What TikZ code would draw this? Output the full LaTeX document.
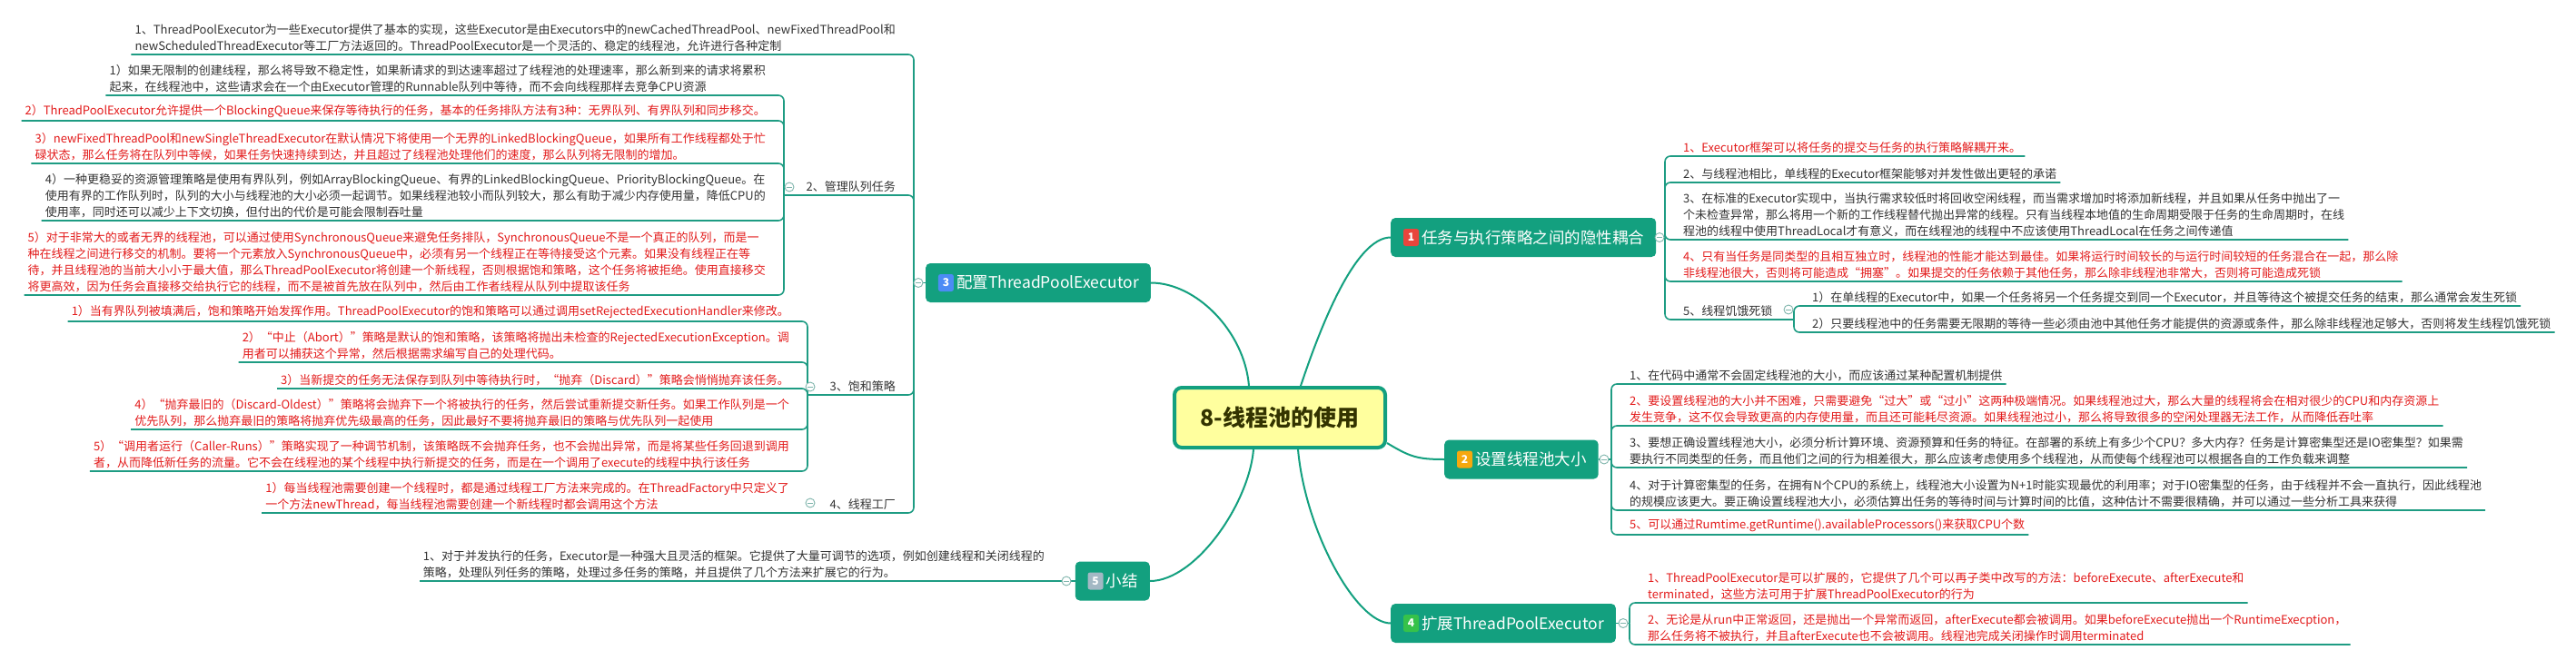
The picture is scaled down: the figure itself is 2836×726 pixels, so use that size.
\documentclass[tikz,border=0pt]{standalone}
\usepackage{fontspec}
\setmainfont{Noto Sans CJK SC}
\usetikzlibrary{calc}
\definecolor{teal0}{HTML}{13A07F}
\definecolor{lineteal}{HTML}{1E9C83}
\definecolor{txt}{HTML}{333333}
\definecolor{redtxt}{HTML}{E31B1B}
\definecolor{cfill}{HTML}{FFFF9E}
\definecolor{ctxt}{HTML}{333300}
\definecolor{bone}{HTML}{E8453C}
\definecolor{btwo}{HTML}{F6A80E}
\definecolor{bthree}{HTML}{4C8BF5}
\definecolor{bfour}{HTML}{36C24A}
\definecolor{bfive}{HTML}{A3B8C4}
\definecolor{cbtn}{HTML}{7FB5AC}
\newcommand\leaffont{\fontsize{13}{18}\selectfont}
\tikzset{
  leaf/.style={inner xsep=4pt, inner ysep=3pt, align=left, font=\leaffont, text=txt},
  redleaf/.style={leaf, text=redtxt},
  branch/.style={fill=teal0, rounded corners=5pt, text=white, font=\fontsize{17.5}{21}\selectfont, minimum height=43pt, inner xsep=13pt, inner ysep=0pt},
  badge/.style={rounded corners=2.5pt, text=white, font=\bfseries\fontsize{12}{12}\selectfont, inner sep=0pt, minimum width=17pt, minimum height=19pt},
  mainconn/.style={draw=teal0, line width=2pt},
  conn/.style={draw=lineteal, line width=1.6pt, rounded corners=6pt},
  btn/.style={circle, draw=cbtn, fill=white, line width=0.9pt, minimum size=10pt, inner sep=0pt,
    path picture={\draw[cbtn, line width=0.9pt] ([xshift=-2.6pt]path picture bounding box.center) -- ([xshift=2.6pt]path picture bounding box.center);}},
  centernode/.style={draw=teal0, line width=4pt, fill=cfill, rounded corners=8pt, minimum width=232pt, minimum height=66pt, font=\bfseries\fontsize{25}{30}\selectfont, text=ctxt}
}
\begin{document}
\begin{tikzpicture}[x=1pt,y=-1pt]
\useasboundingbox (0,0) rectangle (2836,726);
\fill[white] (0,0) rectangle (2836,726);

% ---------- center and branches
\node[centernode] (c) at (1409,460) {8-线程池的使用};
\node[branch, anchor=east] (n3) at (1267,311.5) {\hspace*{21pt}配置ThreadPoolExecutor};
\node[branch, anchor=west] (n1) at (1531,261.5) {\hspace*{21pt}任务与执行策略之间的隐性耦合};
\node[branch, anchor=west] (n2) at (1590,506) {\hspace*{21pt}设置线程池大小};
\node[branch, anchor=east] (n5) at (1266,640) {\hspace*{21pt}小结};
\node[branch, anchor=west] (n4) at (1531,686.5) {\hspace*{21pt}扩展ThreadPoolExecutor};
\node[badge, fill=bone]   (bg1) at ([xshift=22.5pt]n1.west) {1};
\node[badge, fill=btwo]   (bg2) at ([xshift=22.5pt]n2.west) {2};
\node[badge, fill=bthree] (bg3) at ([xshift=22.5pt]n3.west) {3};
\node[badge, fill=bfour]  (bg4) at ([xshift=22.5pt]n4.west) {4};
\node[badge, fill=bfive]  (bg5) at ([xshift=22.5pt]n5.west) {5};

\draw[mainconn] (n3.east) .. controls +(50,0) and +(-5,-60) .. ([xshift=-34pt]c.north);
\draw[mainconn] ([xshift=23pt]c.north) .. controls +(20,-60) and +(-40,0) .. (n1.west);
\draw[mainconn] ($(c.east)+(0,28)$) .. controls +(25,15) and +(-30,0) .. (n2.west);
\draw[mainconn] ([xshift=-29pt]c.south) .. controls +(-5,60) and +(50,0) .. (n5.east);
\draw[mainconn] ([xshift=20pt]c.south) .. controls +(8,90) and +(-38,0) .. (n4.west);

% ---------- branch 3 : 配置ThreadPoolExecutor
\coordinate (j3) at (1006,311.5);
\coordinate (jq) at (863,215);
\coordinate (js) at (889,435);
\coordinate (jf) at (889,565);
\node[leaf, anchor=south east] (c31) at (990,60) {1、ThreadPoolExecutor为一些Executor提供了基本的实现，这些Executor是由Executors中的newCachedThreadPool、newFixedThreadPool和\\newScheduledThreadExecutor等工厂方法返回的。ThreadPoolExecutor是一个灵活的、稳定的线程池，允许进行各种定制};
\node[leaf, anchor=south east] (c32) at (990,215) {2、管理队列任务};
\node[leaf, anchor=south east] (c33) at (990,435) {3、饱和策略};
\node[leaf, anchor=south east] (c34) at (990,565) {4、线程工厂};

\node[leaf, anchor=south east] (q1) at (847,105) {1）如果无限制的创建线程，那么将导致不稳定性，如果新请求的到达速率超过了线程池的处理速率，那么新到来的请求将累积\\起来，在线程池中，这些请求会在一个由Executor管理的Runnable队列中等待，而不会向线程那样去竞争CPU资源};
\node[redleaf, anchor=south east] (q2) at (847,133) {2）ThreadPoolExecutor允许提供一个BlockingQueue来保存等待执行的任务，基本的任务排队方法有3种：无界队列、有界队列和同步移交。};
\node[redleaf, anchor=south east] (q3) at (847,180) {3）newFixedThreadPool和newSingleThreadExecutor在默认情况下将使用一个无界的LinkedBlockingQueue，如果所有工作线程都处于忙\\碌状态，那么任务将在队列中等候，如果任务快速持续到达，并且超过了线程池处理他们的速度，那么队列将无限制的增加。};
\node[leaf, anchor=south east] (q4) at (847,243) {4）一种更稳妥的资源管理策略是使用有界队列，例如ArrayBlockingQueue、有界的LinkedBlockingQueue、PriorityBlockingQueue。在\\使用有界的工作队列时，队列的大小与线程池的大小必须一起调节。如果线程池较小而队列较大，那么有助于减少内存使用量，降低CPU的\\使用率，同时还可以减少上下文切换，但付出的代价是可能会限制吞吐量};
\node[redleaf, anchor=south east] (q5) at (847,325) {5）对于非常大的或者无界的线程池，可以通过使用SynchronousQueue来避免任务排队，SynchronousQueue不是一个真正的队列，而是一\\种在线程之间进行移交的机制。要将一个元素放入SynchronousQueue中，必须有另一个线程正在等待接受这个元素。如果没有线程正在等\\待，并且线程池的当前大小小于最大值，那么ThreadPoolExecutor将创建一个新线程，否则根据饱和策略，这个任务将被拒绝。使用直接移交\\将更高效，因为任务会直接移交给执行它的线程，而不是被首先放在队列中，然后由工作者线程从队列中提取该任务};

\node[redleaf, anchor=south east] (s1) at (873,354) {1）当有界队列被填满后，饱和策略开始发挥作用。ThreadPoolExecutor的饱和策略可以通过调用setRejectedExecutionHandler来修改。};
\node[redleaf, anchor=south east] (s2) at (873,399) {2）“中止（Abort）”策略是默认的饱和策略，该策略将抛出未检查的RejectedExecutionException。调\\用者可以捕获这个异常，然后根据需求编写自己的处理代码。};
\node[redleaf, anchor=south east] (s3) at (873,428) {3）当新提交的任务无法保存到队列中等待执行时，“抛弃（Discard）”策略会悄悄抛弃该任务。};
\node[redleaf, anchor=south east] (s4) at (873,473) {4）“抛弃最旧的（Discard-Oldest）”策略将会抛弃下一个将被执行的任务，然后尝试重新提交新任务。如果工作队列是一个\\优先队列，那么抛弃最旧的策略将抛弃优先级最高的任务，因此最好不要将抛弃最旧的策略与优先队列一起使用};
\node[redleaf, anchor=south east] (s5) at (873,519) {5）“调用者运行（Caller-Runs）”策略实现了一种调节机制，该策略既不会抛弃任务，也不会抛出异常，而是将某些任务回退到调用\\者，从而降低新任务的流量。它不会在线程池的某个线程中执行新提交的任务，而是在一个调用了execute的线程中执行该任务};
\node[redleaf, anchor=south east] (f1) at (873,565) {1）每当线程池需要创建一个线程时，都是通过线程工厂方法来完成的。在ThreadFactory中只定义了\\一个方法newThread，每当线程池需要创建一个新线程时都会调用这个方法};

\draw[conn] (n3.west) -- (j3);
\draw[conn] (j3) |- (c31.south west);
\draw[conn] (j3) |- (jq);
\draw[conn] (j3) |- (js);
\draw[conn] (j3) |- (jf);
\foreach \q in {q1,q2,q3,q4,q5} {\draw[conn] (jq) |- (\q.south west);}
\foreach \s in {s1,s2,s3,s4,s5} {\draw[conn] (js) |- (\s.south west);}
\draw[conn] (jf) -- (f1.south west);

% ---------- branch 5 : 小结
\node[leaf, anchor=south east] (p1) at (1154,640) {1、对于并发执行的任务，Executor是一种强大且灵活的框架。它提供了大量可调节的选项，例如创建线程和关闭线程的\\策略，处理队列任务的策略，处理过多任务的策略，并且提供了几个方法来扩展它的行为。};
\draw[conn] (n5.west) -- (p1.south west);

% ---------- branch 1 : 任务与执行策略之间的隐性耦合
\coordinate (j1) at (1833,261.5);
\coordinate (jr5) at (1975,352);
\node[redleaf, anchor=south west] (r1) at (1849,172) {1、Executor框架可以将任务的提交与任务的执行策略解耦开来。};
\node[leaf, anchor=south west] (r2) at (1849,201) {2、与线程池相比，单线程的Executor框架能够对并发性做出更轻的承诺};
\node[leaf, anchor=south west] (r3) at (1849,264) {3、在标准的Executor实现中，当执行需求较低时将回收空闲线程，而当需求增加时将添加新线程，并且如果从任务中抛出了一\\个未检查异常，那么将用一个新的工作线程替代抛出异常的线程。只有当线程本地值的生命周期受限于任务的生命周期时，在线\\程池的线程中使用ThreadLocal才有意义，而在线程池的线程中不应该使用ThreadLocal在任务之间传递值};
\node[redleaf, anchor=south west] (r4) at (1849,310) {4、只有当任务是同类型的且相互独立时，线程池的性能才能达到最佳。如果将运行时间较长的与运行时间较短的任务混合在一起，那么除\\非线程池很大，否则将可能造成“拥塞”。如果提交的任务依赖于其他任务，那么除非线程池非常大，否则将可能造成死锁};
\node[leaf, anchor=south west] (r5) at (1849,352) {5、线程饥饿死锁};
\node[leaf, anchor=south west] (r51) at (1991,337) {1）在单线程的Executor中，如果一个任务将另一个任务提交到同一个Executor，并且等待这个被提交任务的结束，那么通常会发生死锁};
\node[leaf, anchor=south west] (r52) at (1991,366) {2）只要线程池中的任务需要无限期的等待一些必须由池中其他任务才能提供的资源或条件，那么除非线程池足够大，否则将发生线程饥饿死锁};
\draw[conn] (n1.east) -- (j1);
\foreach \r in {r1,r2,r3,r4} {\draw[conn] (j1) |- (\r.south east);}
\draw[conn] (j1) |- (jr5);
\draw[conn] (jr5) |- (r51.south east);
\draw[conn] (jr5) |- (r52.south east);

% ---------- branch 2 : 设置线程池大小
\coordinate (j2) at (1774,506);
\node[leaf, anchor=south west] (z1) at (1790,423) {1、在代码中通常不会固定线程池的大小，而应该通过某种配置机制提供};
\node[redleaf, anchor=south west] (z2) at (1790,469) {2、要设置线程池的大小并不困难，只需要避免“过大”或“过小”这两种极端情况。如果线程池过大，那么大量的线程将会在相对很少的CPU和内存资源上\\发生竞争，这不仅会导致更高的内存使用量，而且还可能耗尽资源。如果线程池过小，那么将导致很多的空闲处理器无法工作，从而降低吞吐率};
\node[leaf, anchor=south west] (z3) at (1790,515) {3、要想正确设置线程池大小，必须分析计算环境、资源预算和任务的特征。在部署的系统上有多少个CPU？多大内存？任务是计算密集型还是IO密集型？如果需\\要执行不同类型的任务，而且他们之间的行为相差很大，那么应该考虑使用多个线程池，从而使每个线程池可以根据各自的工作负载来调整};
\node[leaf, anchor=south west] (z4) at (1790,562) {4、对于计算密集型的任务，在拥有N个CPU的系统上，线程池大小设置为N+1时能实现最优的利用率；对于IO密集型的任务，由于线程并不会一直执行，因此线程池\\的规模应该更大。要正确设置线程池大小，必须估算出任务的等待时间与计算时间的比值，这种估计不需要很精确，并可以通过一些分析工具来获得};
\node[redleaf, anchor=south west] (z5) at (1790,589) {5、可以通过Rumtime.getRuntime().availableProcessors()来获取CPU个数};
\draw[conn] (n2.east) -- (j2);
\foreach \z in {z1,z2,z3,z4,z5} {\draw[conn] (j2) |- (\z.south east);}

% ---------- branch 4 : 扩展ThreadPoolExecutor
\coordinate (j4) at (1794,686.5);
\node[redleaf, anchor=south west] (e1) at (1810,664) {1、ThreadPoolExecutor是可以扩展的，它提供了几个可以再子类中改写的方法：beforeExecute、afterExecute和\\terminated，这些方法可用于扩展ThreadPoolExecutor的行为};
\node[redleaf, anchor=south west] (e2) at (1810,710) {2、无论是从run中正常返回，还是抛出一个异常而返回，afterExecute都会被调用。如果beforeExecute抛出一个RuntimeExecption，\\那么任务将不被执行，并且afterExecute也不会被调用。线程池完成关闭操作时调用terminated};
\draw[conn] (n4.east) -- (j4);
\draw[conn] (j4) |- (e1.south east);
\draw[conn] (j4) |- (e2.south east);

% ---------- collapse buttons
\node[btn] (k3) at (1011,311.5) {};
\node[btn] (k32) at (869,206) {};
\node[btn] (k33) at (892,426) {};
\node[btn] (k34) at (892,554) {};
\node[btn] (k5) at (1174,640) {};
\node[btn] (k1) at (1827,261.5) {};
\node[btn] (k15) at (1969,341) {};
\node[btn] (k2) at (1766,506) {};
\node[btn] (k4) at (1787,686.5) {};
\end{tikzpicture}
\end{document}
